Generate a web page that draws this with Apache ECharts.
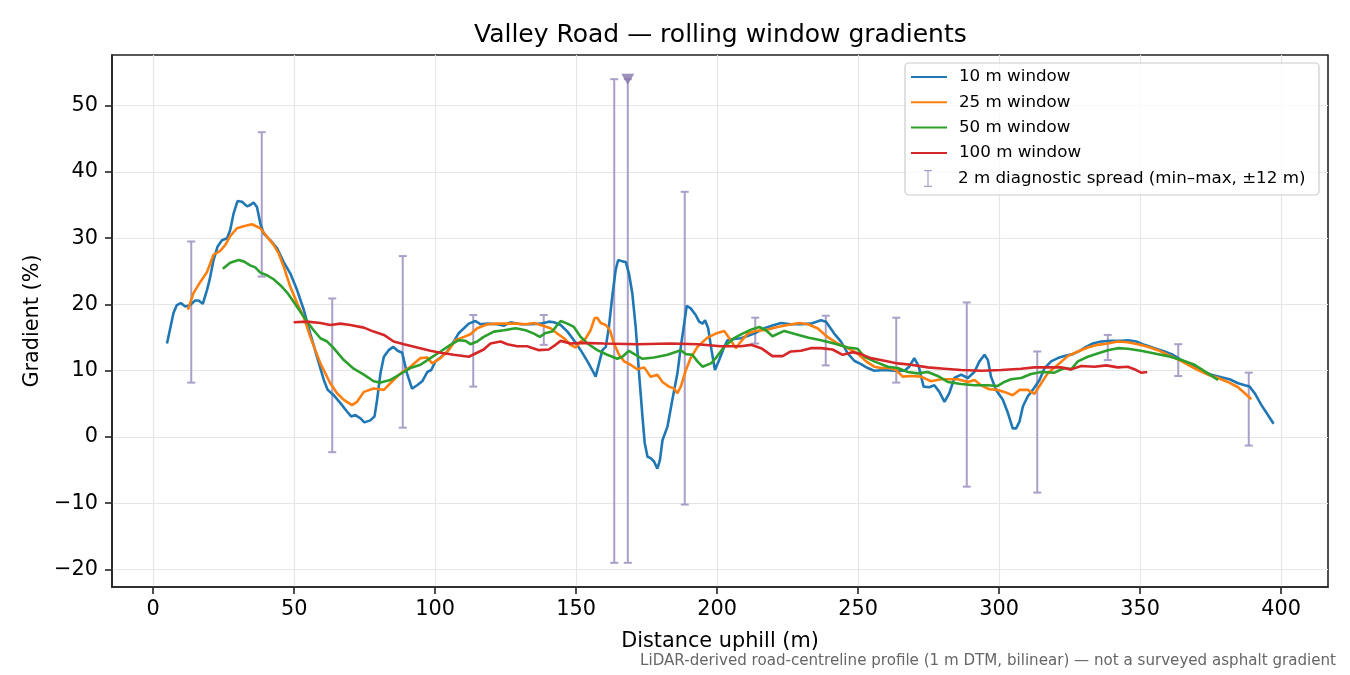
<!DOCTYPE html>
<html>
<head>
<meta charset="utf-8">
<title>Valley Road — rolling window gradients</title>
<script src="https://cdn.jsdelivr.net/npm/echarts@6.0.0/dist/echarts.min.js"></script>
<style>
  html, body { margin: 0; padding: 0; background: #fff; }
  #main { width: 1350px; height: 675px; }
</style>
</head>
<body>
<div id="main"></div>
<script>
// 10 m window
const dist10 = [4.9, 7.2, 8.4, 9.8, 11.4, 13.1, 14.9, 16.1, 17.6, 19.1, 20.0, 21.4, 22.8, 24.4, 26.2, 27.3,
  28.5, 29.9, 31.5, 33.3, 34.4, 35.6, 36.8, 38.0, 39.2, 41.5, 43.9, 46.3, 48.6, 51.0, 53.4, 55.7, 58.1,
  60.5, 61.9, 64.0, 66.4, 68.8, 70.2, 71.7, 73.5, 74.9, 77.0, 78.5, 79.4, 80.6, 81.8, 83.5, 85.1, 86.7,
  88.3, 90.0, 91.8, 93.6, 95.4, 97.2, 98.6, 100.1, 101.9, 104.3, 106.6, 108.4, 110.2, 111.9, 114.3,
  116.1, 118.5, 122.0, 124.4, 126.7, 130.3, 133.8, 137.4, 140.3, 142.1, 144.5, 146.9, 149.2, 151.6,
  154.0, 155.7, 156.9, 158.1, 159.3, 160.5, 161.6, 162.8, 164.0, 164.9, 166.4, 167.6, 168.7, 169.9,
  171.1, 172.3, 173.5, 174.3, 175.3, 176.4, 177.6, 178.8, 179.7, 180.6, 182.4, 184.1, 185.9, 187.1,
  188.3, 189.2, 190.6, 192.4, 193.6, 194.8, 195.7, 196.8, 198.0, 199.2, 200.7, 202.5, 203.7, 206.0,
  208.4, 210.5, 213.1, 216.7, 220.2, 222.6, 226.1, 229.7, 233.2, 236.8, 238.6, 241.5, 243.9, 246.3,
  248.6, 251.0, 253.4, 255.7, 259.3, 262.8, 266.4, 268.1, 269.9, 271.5, 273.2, 275.2, 277.0, 278.8,
  280.6, 282.3, 284.1, 286.5, 288.9, 291.2, 293.0, 294.8, 296.0, 297.1, 298.9, 301.3, 303.1, 304.8,
  306.0, 307.2, 308.4, 310.1, 311.9, 314.3, 316.1, 318.4, 320.8, 323.1, 326.1, 328.5, 330.8, 333.2,
  336.2, 339.7, 343.3, 345.6, 348.6, 351.5, 355.1, 358.6, 361.6, 364.6, 368.1, 371.7, 375.2, 378.8,
  381.7, 384.7, 387.1, 388.8, 390.6, 393.0, 395.3, 397.3];
const grad10 = [14.1, 18.7, 19.9, 20.2, 19.7, 19.9, 20.6, 20.6, 20.1, 22.2, 23.7, 26.7, 28.7, 29.7, 30.0, 31.2,
  33.7, 35.6, 35.5, 34.8, 35.0, 35.4, 34.7, 32.2, 30.7, 29.7, 28.5, 26.4, 24.7, 22.2, 19.2, 15.6, 12.1,
  8.6, 7.1, 6.3, 5.1, 3.8, 3.1, 3.3, 2.8, 2.2, 2.5, 3.1, 5.6, 9.6, 12.1, 13.1, 13.6, 13.0,
  12.7, 9.6, 7.3, 7.8, 8.4, 9.8, 10.1, 11.4, 12.0, 12.9, 14.4, 15.7, 16.4, 17.1, 17.5,
  17.0, 17.1, 17.0, 16.8, 17.3, 17.0, 17.0, 17.1, 17.4, 17.3, 16.9, 15.9, 14.6, 13.1,
  11.4, 10.1, 9.1, 11.1, 13.1, 13.6, 16.6, 21.2, 25.2, 26.7, 26.5, 26.4, 24.7, 21.7,
  16.6, 9.6, 3.1, -0.9, -3.0, -3.2, -3.7, -4.8, -3.5, -0.5, 1.6, 5.6, 9.6, 13.6,
  17.1, 19.8, 19.4, 18.4, 17.4, 17.1, 17.6, 16.4, 13.1, 10.1, 11.6, 13.6, 14.6, 14.8,
  14.9, 15.2, 15.6, 16.4, 16.9, 17.2, 17.0, 17.0, 17.1, 17.6, 17.4, 15.6, 14.4, 12.6,
  11.5, 11.0, 10.4, 10.0, 10.1, 10.0, 10.0, 10.6, 11.9, 10.6, 7.6, 7.5, 7.8, 6.8,
  5.3, 6.6, 8.9, 9.4, 8.9, 9.8, 11.4, 12.4, 11.6, 9.1, 7.1, 5.6, 3.6, 1.3,
  1.3, 2.3, 4.6, 6.1, 7.1, 8.6, 10.4, 11.4, 11.9, 12.2, 12.5, 13.0, 13.6, 14.1,
  14.4, 14.5, 14.5, 14.6, 14.4, 13.9, 13.4, 12.9, 12.4, 11.6, 10.9, 10.0, 9.4, 9.0,
  8.7, 8.1, 7.8, 7.6, 6.6, 4.8, 3.3, 2.0];

// 25 m window
const dist25 = [12.3, 14.3, 16.7, 19.1, 21.4, 23.8, 25.6, 27.3, 29.7, 32.1, 35.0, 38.0, 40.4, 42.7, 44.5,
  46.3, 48.6, 51.0, 53.4, 55.7, 59.3, 62.8, 65.2, 67.6, 70.5, 72.3, 74.7, 78.2, 81.8, 84.1, 87.7, 91.2,
  94.8, 97.2, 98.9, 101.9, 104.8, 107.2, 110.2, 112.5, 114.9, 118.5, 122.0, 125.6, 129.1, 132.1, 135.0,
  137.4, 140.9, 143.3, 145.7, 148.0, 149.8, 151.6, 153.4, 155.1, 156.5, 157.5, 158.7, 160.5, 162.0,
  163.4, 165.2, 167.0, 169.3, 171.7, 174.1, 176.4, 178.8, 180.6, 182.9, 184.7, 185.9, 187.1, 188.9,
  190.6, 193.0, 196.6, 199.5, 202.5, 204.8, 206.6, 208.4, 210.8, 213.7, 217.9, 221.4, 225.0, 229.1,
  232.1, 235.6, 239.1, 242.7, 246.3, 249.8, 252.8, 255.7, 258.1, 261.0, 263.4, 265.8, 268.7, 272.3,
  275.8, 279.4, 282.3, 285.3, 288.9, 291.2, 293.6, 296.5, 299.5, 301.8, 304.8, 307.2, 310.1, 312.5,
  314.9, 317.2, 320.8, 324.3, 327.9, 331.4, 334.9, 338.5, 342.0, 345.6, 349.2, 352.7, 356.3, 359.8,
  363.4, 366.9, 370.5, 374.0, 377.6, 381.1, 384.7, 387.1, 389.4];
const grad25 = [19.2, 21.7, 23.4, 24.9, 27.5, 28.1, 29.0, 30.3, 31.5, 31.8, 32.1, 31.5, 30.2, 29.0, 27.7,
  25.7, 22.7, 20.2, 18.1, 15.1, 11.1, 8.1, 6.6, 5.6, 4.8, 5.3, 6.8, 7.3, 7.1, 8.1, 9.6, 10.6,
  11.9, 12.0, 11.1, 11.9, 13.1, 14.6, 15.1, 15.5, 16.4, 17.0, 17.1, 17.1, 17.1, 17.0, 17.2,
  16.9, 16.4, 15.6, 14.9, 13.9, 13.5, 14.4, 14.9, 16.1, 17.9, 18.0, 17.2, 16.9, 16.1,
  14.1, 12.4, 11.4, 10.9, 10.2, 10.5, 9.1, 9.4, 8.3, 7.6, 7.3, 6.6, 7.6, 10.1,
  11.9, 13.6, 15.0, 15.6, 16.0, 14.6, 13.4, 14.4, 15.6, 16.0, 16.2, 16.6, 16.9, 17.2,
  17.0, 16.4, 15.1, 14.1, 13.4, 12.6, 11.4, 10.6, 10.4, 10.4, 10.1, 9.1, 9.2, 9.1,
  8.4, 8.7, 8.7, 8.7, 8.3, 8.6, 7.8, 7.2, 7.1, 6.8, 6.3, 7.1, 7.1, 6.5,
  8.1, 9.6, 10.9, 12.2, 12.9, 13.5, 13.9, 14.1, 14.4, 14.3, 14.0, 13.6, 13.1, 12.4,
  11.7, 10.9, 10.1, 9.4, 8.9, 8.3, 7.5, 6.6, 5.7];

// 50 m window
const dist50 = [24.7, 27.3, 30.3, 32.1, 34.4, 36.2, 38.0, 40.4, 42.7, 45.1, 47.5, 49.8, 52.2, 54.6, 56.9,
  59.3, 61.7, 64.0, 67.6, 71.1, 74.7, 78.2, 80.6, 84.1, 87.7, 91.2, 94.8, 98.3, 101.9, 105.4, 108.4,
  110.8, 112.5, 114.9, 117.2, 120.8, 124.4, 128.5, 132.1, 135.0, 137.1, 139.2, 141.5, 143.3, 144.5,
  146.9, 149.2, 151.6, 154.0, 157.5, 161.0, 164.6, 166.4, 168.7, 171.1, 173.5, 177.6, 182.4, 187.1,
  188.9, 191.2, 193.0, 194.8, 197.8, 199.5, 202.5, 206.0, 209.0, 212.0, 214.9, 217.3, 219.6, 223.8,
  227.9, 232.1, 236.8, 241.5, 246.3, 249.8, 252.2, 255.7, 260.5, 264.0, 267.6, 271.1, 274.7, 278.2,
  281.8, 286.5, 291.2, 296.0, 299.5, 301.8, 304.2, 307.8, 311.3, 314.9, 319.6, 323.1, 325.5, 327.9,
  331.4, 334.9, 338.5, 342.0, 345.6, 350.3, 355.1, 359.8, 364.6, 369.3, 374.0, 377.6];
const grad50 = [25.4, 26.3, 26.7, 26.5, 25.9, 25.6, 24.8, 24.4, 23.8, 22.9, 21.8, 20.4, 18.9, 17.4, 16.1,
  14.9, 14.4, 13.4, 11.6, 10.3, 9.4, 8.4, 8.2, 8.6, 9.5, 10.4, 10.9, 11.9, 12.9, 13.9, 14.6,
  14.5, 14.0, 14.4, 15.1, 15.9, 16.1, 16.4, 16.1, 15.6, 15.1, 15.7, 15.9, 16.9, 17.5,
  17.1, 16.6, 15.1, 14.1, 13.1, 12.4, 11.8, 12.1, 13.0, 12.4, 11.8, 12.0, 12.4, 13.1,
  12.5, 12.4, 11.4, 10.6, 11.1, 11.9, 13.6, 14.9, 15.6, 16.2, 16.6, 16.1, 15.2, 16.0,
  15.5, 15.0, 14.6, 14.1, 13.5, 13.3, 12.1, 11.4, 10.6, 10.4, 9.8, 9.6, 9.8, 9.2,
  8.3, 8.0, 7.8, 7.8, 7.7, 8.3, 8.7, 8.9, 9.5, 9.8, 9.7, 10.4, 10.2, 11.4,
  12.1, 12.6, 13.1, 13.4, 13.3, 13.0, 12.6, 12.2, 11.6, 10.9, 9.6, 8.6];

// 100 m window
const dist100 = [49.8, 54.6, 59.3, 62.8, 66.4, 69.9, 74.7, 78.2, 81.8, 85.3, 88.9, 93.6, 98.3, 101.9, 106.6,
  111.9, 114.3, 117.2, 119.6, 123.2, 125.6, 129.1, 132.6, 136.8, 140.3, 142.7, 144.5, 148.0, 151.6,
  159.8, 171.7, 183.5, 193.0, 201.3, 208.4, 212.0, 215.6, 219.6, 223.2, 226.1, 229.7, 233.2, 236.8,
  240.9, 244.5, 248.0, 251.0, 254.5, 259.3, 264.0, 268.7, 274.7, 280.6, 286.5, 293.6, 300.7, 307.8,
  312.5, 317.2, 321.9, 325.5, 329.1, 333.8, 338.0, 342.0, 345.6, 348.6, 350.3, 352.5];
const grad100 = [17.3, 17.4, 17.2, 16.9, 17.1, 16.9, 16.5, 15.9, 15.4, 14.4, 14.0, 13.5, 13.0, 12.7, 12.4,
  12.1, 12.6, 13.2, 14.1, 14.4, 14.0, 13.7, 13.7, 13.1, 13.2, 13.9, 14.5, 14.1, 14.2,
  14.1, 14.0, 14.1, 14.0, 13.7, 13.7, 13.9, 13.4, 12.2, 12.2, 12.9, 13.0, 13.4, 13.4,
  13.2, 12.4, 12.8, 12.5, 11.9, 11.5, 11.1, 10.9, 10.5, 10.3, 10.1, 10.0, 10.1, 10.3,
  10.5, 10.5, 10.5, 10.2, 10.7, 10.6, 10.8, 10.5, 10.6, 10.1, 9.7, 9.8];

// 2 m diagnostic spread (min-max within +-12 m)
const spreadDist = [13.5, 38.5, 63.5, 88.5, 113.5, 138.5, 163.5, 168.3, 188.5, 213.5, 238.5, 263.5, 288.5,
  313.5, 338.5, 363.5, 388.5];
const spreadMin = [8.2, 24.2, -2.3, 1.4, 7.6, 13.9, -19.0, -19.0, -10.2, 14.1, 10.8, 8.2, -7.5, -8.4, 11.6,
  9.2, -1.3];
const spreadMax = [29.5, 46.0, 20.9, 27.3, 18.4, 18.4, 54.0, 54.0, 37.0, 18.0, 18.3, 18.0, 20.3, 12.9, 15.4,
  14.0, 9.7];

// clipped peak marker
const peakDist = [168.3];
const peakGrad = [54.0];

const xTicks = [0, 50, 100, 150, 200, 250, 300, 350, 400];
const yTicks = [-20, -10, 0, 10, 20, 30, 40, 50];
const xRange = [-14.6, 416.6];
const yRange = [-22.65, 57.65];

const seriesNames = ['10 m window', '25 m window', '50 m window', '100 m window'];
const spreadName = '2 m diagnostic spread (min\u2013max, \u00b112 m)';

function pairs(xs, ys) {
  return xs.map(function (x, i) { return [x, ys[i]]; });
}

var dom = document.getElementById('main');
var myChart = echarts.init(dom, null, { renderer: 'canvas' });

const font = 'DejaVu Sans';
const colors = ['#1f77b4', '#ff7f0e', '#2ca02c', '#d62728'];
const spreadColor = '#aa9fc8';
const frameColor = '#222222';

function minusFmt(v) {
  return v < 0 ? '\u2212' + Math.abs(v) : String(v);
}

function renderSpread(params, api) {
  const x = api.value(0);
  const top = api.coord([x, api.value(2)]);
  const bot = api.coord([x, api.value(1)]);
  const cap = 4;
  const style = { stroke: spreadColor, lineWidth: 2 };
  return {
    type: 'group',
    children: [
      { type: 'line', shape: { x1: top[0], y1: top[1], x2: bot[0], y2: bot[1] }, style: style },
      { type: 'line', shape: { x1: top[0] - cap, y1: top[1], x2: top[0] + cap, y2: top[1] }, style: style },
      { type: 'line', shape: { x1: bot[0] - cap, y1: bot[1], x2: bot[0] + cap, y2: bot[1] }, style: style }
    ]
  };
}

const lineData = [pairs(dist10, grad10), pairs(dist25, grad25), pairs(dist50, grad50), pairs(dist100, grad100)];

const series = [
  {
    name: spreadName,
    type: 'custom',
    renderItem: renderSpread,
    encode: { x: 0, y: [1, 2] },
    itemStyle: { color: spreadColor },
    data: spreadDist.map(function (x, i) { return [x, spreadMin[i], spreadMax[i]]; }),
    z: 1
  }
];
seriesNames.forEach(function (name, i) {
  series.push({
    name: name,
    type: 'line',
    data: lineData[i],
    showSymbol: false,
    symbol: 'none',
    lineStyle: { color: colors[i], width: 2.6 },
    itemStyle: { color: colors[i] },
    emphasis: { disabled: true },
    z: 2 + i * 0.1
  });
});
series.push({
  name: 'peak',
  type: 'scatter',
  data: pairs(peakDist, peakGrad),
  symbol: 'triangle',
  symbolRotate: 180,
  symbolSize: [13, 11],
  itemStyle: { color: '#8575aa' },
  z: 5
});

const option = {
  animation: false,
  backgroundColor: '#ffffff',
  textStyle: { fontFamily: font },
  title: [
    {
      text: 'Valley Road \u2014 rolling window gradients',
      left: 474,
      top: 23,
      padding: 0,
      textStyle: { fontFamily: font, fontSize: 25, fontWeight: 'normal', color: '#000' }
    },
    {
      text: 'LiDAR-derived road-centreline profile (1 m DTM, bilinear) \u2014 not a surveyed asphalt gradient',
      right: 14,
      top: 654,
      padding: 0,
      textStyle: { fontFamily: font, fontSize: 15.1, fontWeight: 'normal', color: '#666666' }
    }
  ],
  grid: {
    left: 112,
    right: 22,
    top: 55,
    bottom: 88,
    show: true,
    borderColor: frameColor,
    borderWidth: 1.6,
    backgroundColor: 'transparent'
  },
  legend: [
    {
      orient: 'vertical',
      left: 910,
      top: 68,
      padding: 0,
      itemWidth: 36,
      itemHeight: 18,
      itemGap: 7.3,
      selectedMode: false,
      itemStyle: { opacity: 0 },
      textStyle: { fontFamily: font, fontSize: 16.7, color: '#000', lineHeight: 18, padding: [0, 0, 0, 7] },
      data: seriesNames
    },
    {
      orient: 'vertical',
      left: 924,
      top: 169.5,
      padding: 0,
      itemWidth: 8,
      itemHeight: 17,
      selectedMode: false,
      textStyle: { fontFamily: font, fontSize: 16.7, color: '#000', lineHeight: 18, padding: [0, 0, 0, 21] },
      data: [{ name: spreadName, icon: 'path://M0,0H8V1.2H4.6V15.8H8V17H0V15.8H3.4V1.2H0Z' }]
    }
  ],
  graphic: {
    elements: [
      {
        type: 'rect',
        z: 3,
        shape: { x: 905, y: 63, width: 414, height: 132, r: 4 },
        style: { fill: 'rgba(255,255,255,0.8)', stroke: '#cccccc', lineWidth: 1.2 }
      }
    ]
  },
  xAxis: {
    type: 'value',
    min: xRange[0],
    max: xRange[1],
    splitNumber: 8,
    minInterval: 50,
    maxInterval: 50,
    axisLine: { show: true, onZero: false, lineStyle: { color: frameColor, width: 1.6 } },
    axisTick: { show: true, length: 7, customValues: xTicks, lineStyle: { color: frameColor, width: 1.6 } },
    axisLabel: {
      customValues: xTicks,
      margin: 12,
      fontFamily: font,
      fontSize: 20.8,
      color: '#000',
      formatter: minusFmt
    },
    splitLine: { show: true, lineStyle: { color: '#e6e6e6', width: 1.2 } },
    name: 'Distance uphill (m)',
    nameLocation: 'middle',
    nameGap: 44,
    nameTextStyle: { fontFamily: font, fontSize: 20.8, color: '#000' }
  },
  yAxis: {
    type: 'value',
    min: yRange[0],
    max: yRange[1],
    splitNumber: 8,
    minInterval: 10,
    maxInterval: 10,
    axisLine: { show: true, onZero: false, lineStyle: { color: frameColor, width: 1.6 } },
    axisTick: { show: true, length: 7, customValues: yTicks, lineStyle: { color: frameColor, width: 1.6 } },
    axisLabel: {
      customValues: yTicks,
      margin: 14,
      fontFamily: font,
      fontSize: 20.8,
      color: '#000',
      formatter: minusFmt
    },
    splitLine: { show: true, lineStyle: { color: '#e6e6e6', width: 1.2 } },
    name: 'Gradient (%)',
    nameLocation: 'middle',
    nameGap: 64,
    nameTextStyle: { fontFamily: font, fontSize: 20.8, color: '#000' }
  },
  series: series
};

if (option && typeof option === 'object') {
  myChart.setOption(option);
}

window.addEventListener('resize', myChart.resize);
</script>
</body>
</html>
